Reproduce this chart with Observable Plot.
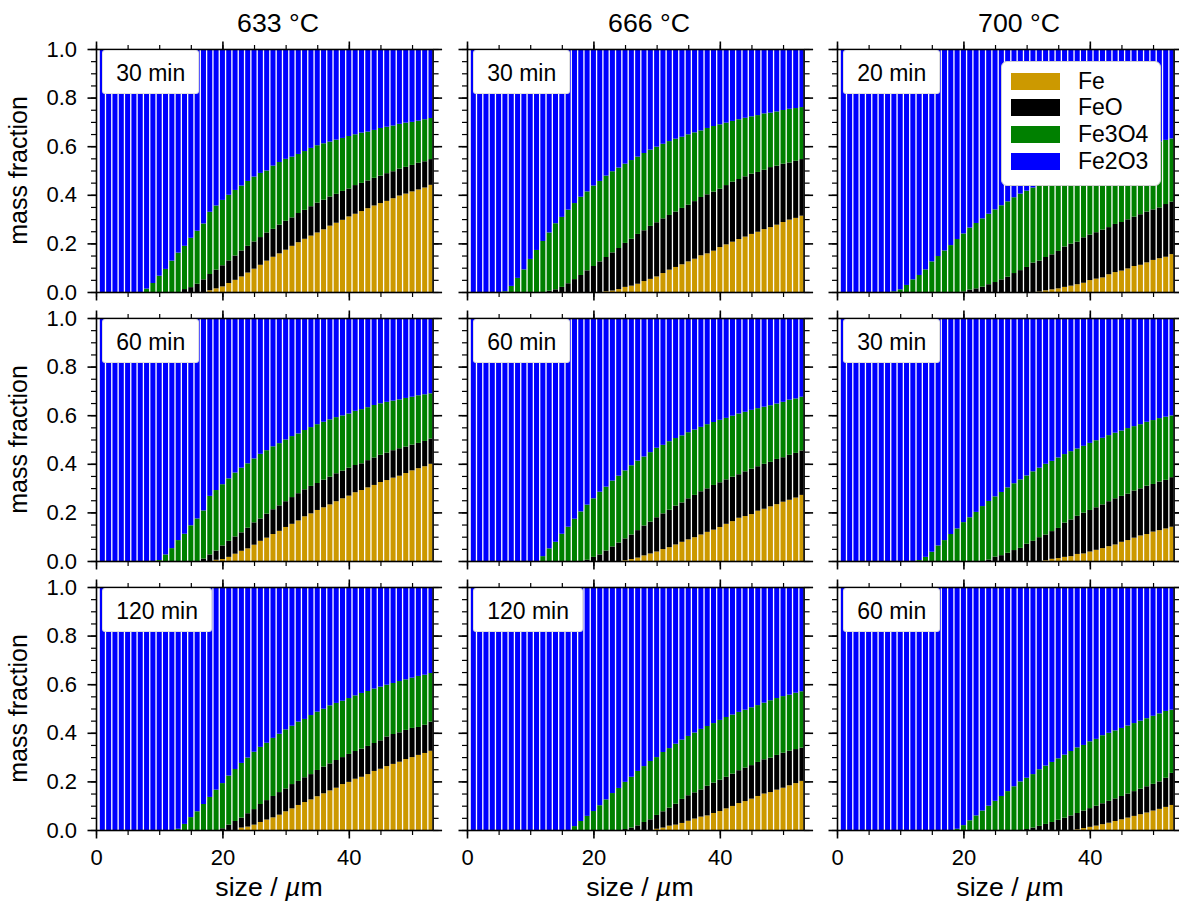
<!DOCTYPE html>
<html><head><meta charset="utf-8">
<script src="https://cdn.jsdelivr.net/npm/d3@7"></script>
<script src="https://cdn.jsdelivr.net/npm/@observablehq/plot@0.6"></script>
<style>
body{margin:0;background:#fff;font-family:"Liberation Sans",Arial,Helvetica,sans-serif;}
#wrap{position:relative;width:1179px;height:909px;overflow:hidden;background:#fff;}
.tbox{position:absolute;background:#fff;border:1px solid rgba(0,0,0,0.12);border-radius:3px;height:44px;line-height:45px;padding:0 13px;font-size:23px;color:#000;white-space:nowrap;box-sizing:border-box;}
.legend{position:absolute;background:#fff;border:1.5px solid #cfcfcf;border-radius:6px;box-sizing:border-box;}
.legend .sw{position:absolute;width:49px;height:17px;}
.legend .lb{position:absolute;font-size:23px;line-height:23px;color:#000;white-space:nowrap;}
</style></head><body><div id="wrap"></div>
<script>
// ---------------- data ----------------
const sizes = [1,2,3,4,5,6,7,8,9,10,11,12,13,14,15,16,17,18,19,20,21,22,23,24,25,26,27,28,29,30,31,32,33,34,35,36,37,38,39,40,41,42,43,44,45,46,47,48,49,50,51,52,53];
const temps = ["633 °C","666 °C","700 °C"];
const species = ["Fe","FeO","Fe3O4","Fe2O3"];
const speciesColors = ["#cc9900","#000000","#008000","#0000ff"];
const xMajorTicks = [0,20,40];
const xMinorTicks = [0,5,10,15,20,25,30,35,40,45,50];
const yMajorTicks = [0,0.2,0.4,0.6,0.8,1.0];
const yMinorTicks = [0,0.05,0.1,0.15,0.2,0.25,0.3,0.35,0.4,0.45,0.5,0.55,0.6,0.65,0.7,0.75,0.8,0.85,0.9,0.95,1.0];

// cumulative tops: Fe, Fe+FeO, Fe+FeO+Fe3O4 (rest is Fe2O3)
// 633 °C, 30 min
const fe_633_30 = [0,0,0,0,0,0,0,0,0,0,0,0,0,0,0,0,0,.007,.015,.023,.037,.05,.064,.08,.096,.112,.129,.145,.159,.174,.19,.205,.219,.232,.245,.258,.273,.285,.297,.311,.322,.333,.345,.356,.366,.375,.386,.397,.405,.414,.422,.43,.441];
const feo_633_30 = [0,0,0,0,0,0,0,0,0,0,0,0,0,.012,.02,.034,.052,.074,.092,.11,.13,.15,.171,.19,.208,.226,.245,.26,.277,.293,.307,.325,.338,.353,.368,.38,.393,.404,.416,.426,.44,.449,.459,.47,.479,.489,.497,.508,.515,.523,.532,.538,.547];
const fe3o4_633_30 = [0,0,0,0,0,0,0,.014,.037,.067,.095,.129,.162,.19,.223,.252,.282,.33,.356,.379,.40,.42,.438,.457,.475,.49,.50,.52,.535,.548,.557,.568,.58,.593,.604,.612,.619,.627,.634,.642,.649,.656,.66,.667,.675,.68,.685,.692,.697,.70,.705,.711,.716];
// 666 °C, 30 min
const fe_666_30 = [0,0,0,0,0,0,0,0,0,0,0,0,0,0,0,0,0,0,0,0,0,.003,.006,.012,.021,.026,.034,.045,.054,.064,.078,.092,.103,.114,.126,.137,.151,.159,.17,.185,.196,.207,.218,.228,.239,.248,.259,.267,.277,.288,.298,.305,.314];
const feo_666_30 = [0,0,0,0,0,0,0,0,0,0,0,0,.005,.011,.021,.036,.053,.07,.089,.107,.126,.144,.163,.181,.202,.219,.239,.254,.272,.287,.303,.317,.331,.346,.359,.374,.391,.402,.413,.425,.44,.454,.465,.476,.487,.494,.503,.514,.52,.528,.533,.54,.547];
const fe3o4_666_30 = [0,0,0,0,0,.003,.025,.058,.093,.136,.173,.21,.245,.283,.309,.339,.366,.392,.414,.438,.457,.479,.497,.512,.528,.543,.557,.572,.586,.598,.61,.621,.631,.639,.649,.657,.665,.675,.683,.69,.697,.704,.711,.717,.723,.728,.735,.738,.743,.749,.754,.757,.761];
// 700 °C, 20 min
const fe_700_20 = [0,0,0,0,0,0,0,0,0,0,0,0,0,0,0,0,0,0,0,0,0,0,0,0,0,0,0,0,0,0,0,.002,.007,.011,.015,.021,.026,.032,.038,.049,.055,.06,.073,.082,.088,.097,.107,.112,.122,.132,.139,.145,.156];
const feo_700_20 = [0,0,0,0,0,0,0,0,0,0,0,0,0,0,0,0,0,0,0,.002,.01,.015,.022,.032,.041,.052,.063,.078,.09,.103,.121,.129,.144,.155,.169,.187,.199,.207,.225,.236,.246,.257,.267,.28,.288,.299,.31,.32,.331,.34,.348,.362,.372];
const fe3o4_700_20 = [0,0,0,0,0,0,0,0,.003,.011,.029,.052,.07,.093,.126,.148,.171,.193,.218,.241,.265,.284,.303,.322,.34,.357,.373,.39,.405,.417,.43,.442,.454,.466,.477,.488,.499,.51,.52,.53,.54,.55,.559,.568,.577,.585,.593,.6,.607,.614,.62,.626,.632];
// 633 °C, 60 min
const fe_633_60 = [0,0,0,0,0,0,0,0,0,0,0,0,0,0,0,0,0,0,.005,.008,.017,.03,.042,.052,.067,.083,.096,.111,.124,.14,.153,.167,.184,.196,.21,.221,.233,.246,.258,.269,.283,.292,.303,.313,.325,.333,.343,.351,.362,.373,.382,.39,.4];
const feo_633_60 = [0,0,0,0,0,0,0,0,0,0,0,0,0,0,0,0,.01,.027,.043,.064,.083,.101,.118,.137,.159,.175,.195,.213,.229,.246,.263,.279,.295,.309,.321,.335,.347,.361,.372,.384,.395,.402,.415,.426,.437,.446,.456,.464,.471,.479,.486,.494,.504];
const fe3o4_633_60 = [0,0,0,0,0,0,0,0,0,.004,.027,.053,.086,.112,.147,.175,.208,.268,.292,.316,.34,.364,.384,.402,.422,.441,.456,.472,.485,.5,.514,.525,.539,.551,.563,.573,.583,.592,.599,.607,.618,.625,.633,.642,.649,.655,.66,.665,.671,.676,.682,.686,.69];
// 666 °C, 60 min
const fe_666_60 = [0,0,0,0,0,0,0,0,0,0,0,0,0,0,0,0,0,0,0,0,0,0,0,0,.003,.008,.014,.023,.031,.039,.049,.057,.068,.079,.089,.098,.109,.12,.129,.14,.153,.164,.178,.185,.193,.207,.215,.225,.234,.244,.252,.261,.272];
const feo_666_60 = [0,0,0,0,0,0,0,0,0,0,0,0,0,0,0,0,0,0,.005,.017,.027,.043,.06,.076,.093,.109,.127,.146,.162,.18,.196,.211,.228,.241,.258,.272,.287,.299,.313,.324,.336,.347,.357,.369,.38,.39,.4,.408,.42,.427,.437,.445,.455];
const fe3o4_666_60 = [0,0,0,0,0,0,0,0,0,0,0,.02,.052,.079,.112,.141,.174,.204,.232,.258,.285,.306,.331,.351,.373,.394,.413,.43,.448,.466,.478,.493,.506,.517,.53,.541,.552,.563,.572,.581,.589,.598,.607,.614,.622,.629,.635,.641,.648,.655,.664,.669,.676];
// 700 °C, 30 min
const fe_700_30 = [0,0,0,0,0,0,0,0,0,0,0,0,0,0,0,0,0,0,0,0,0,0,0,0,0,0,0,0,0,0,0,0,.003,.009,.012,.017,.02,.029,.031,.039,.046,.053,.061,.068,.079,.086,.096,.105,.111,.121,.127,.134,.141];
const feo_700_30 = [0,0,0,0,0,0,0,0,0,0,0,0,0,0,0,0,0,0,0,0,0,0,0,.006,.018,.024,.034,.045,.054,.071,.083,.098,.109,.123,.136,.158,.171,.186,.199,.21,.221,.233,.246,.258,.268,.277,.29,.299,.31,.317,.327,.334,.345];
const fe3o4_700_30 = [0,0,0,0,0,0,0,0,0,0,0,0,.004,.017,.038,.064,.086,.111,.134,.16,.18,.202,.226,.247,.266,.284,.303,.32,.336,.352,.369,.384,.4,.412,.426,.44,.452,.463,.474,.486,.497,.507,.518,.528,.537,.547,.555,.563,.573,.58,.588,.594,.599];
// 633 °C, 120 min
const fe_633_120 = [0,0,0,0,0,0,0,0,0,0,0,0,0,0,0,0,0,0,0,0,0,0,.01,.014,.022,.033,.043,.052,.063,.077,.089,.103,.115,.126,.139,.151,.163,.174,.189,.198,.211,.219,.23,.243,.252,.263,.272,.281,.292,.3,.309,.317,.326];
const feo_633_120 = [0,0,0,0,0,0,0,0,0,0,0,0,0,0,0,0,0,0,0,.007,.022,.037,.051,.069,.086,.107,.123,.14,.156,.171,.189,.202,.217,.23,.247,.261,.274,.288,.3,.313,.325,.335,.346,.358,.369,.385,.395,.402,.412,.42,.424,.433,.446];
const fe3o4_633_120 = [0,0,0,0,0,0,0,0,0,0,0,0,.005,.025,.053,.077,.107,.136,.166,.193,.224,.251,.276,.298,.322,.342,.359,.379,.396,.414,.429,.446,.457,.473,.487,.499,.513,.523,.532,.543,.554,.564,.572,.582,.59,.598,.605,.613,.62,.627,.634,.639,.646];
// 666 °C, 120 min
const fe_666_120 = [0,0,0,0,0,0,0,0,0,0,0,0,0,0,0,0,0,0,0,0,0,0,0,0,0,0,0,0,0,.005,.01,.018,.022,.029,.038,.047,.055,.06,.07,.078,.089,.099,.111,.119,.129,.14,.15,.156,.166,.174,.184,.193,.202];
const feo_666_120 = [0,0,0,0,0,0,0,0,0,0,0,0,0,0,0,0,0,0,0,0,0,0,0,0,.004,.01,.019,.033,.044,.062,.077,.092,.108,.128,.143,.155,.167,.182,.195,.207,.219,.232,.246,.257,.267,.28,.291,.298,.309,.318,.326,.333,.339];
const fe3o4_666_120 = [0,0,0,0,0,0,0,0,0,0,0,0,0,0,0,0,.016,.037,.058,.078,.102,.126,.152,.173,.198,.219,.243,.263,.284,.3,.321,.337,.355,.372,.387,.401,.416,.428,.44,.453,.465,.475,.486,.495,.505,.514,.524,.534,.543,.551,.557,.565,.571];
// 700 °C, 60 min
const fe_700_60 = [0,0,0,0,0,0,0,0,0,0,0,0,0,0,0,0,0,0,0,0,0,0,0,0,0,0,0,0,0,0,0,0,0,0,0,0,0,.003,.008,.013,.018,.024,.03,.037,.044,.051,.058,.065,.072,.08,.087,.095,.103];
const feo_700_60 = [0,0,0,0,0,0,0,0,0,0,0,0,0,0,0,0,0,0,0,0,0,0,0,0,0,0,0,0,0,.004,.01,.017,.025,.033,.042,.051,.06,.07,.08,.09,.1,.11,.12,.13,.14,.15,.16,.17,.18,.19,.2,.215,.235];
const fe3o4_700_60 = [0,0,0,0,0,0,0,0,0,0,0,0,0,0,0,0,0,0,.005,.02,.04,.06,.08,.1,.12,.14,.16,.18,.2,.215,.23,.25,.265,.28,.295,.31,.325,.34,.35,.365,.375,.39,.4,.41,.42,.43,.44,.45,.46,.47,.48,.49,.495];

const panels = [
  {col:0,row:0,label:"30 min", fe:fe_633_30, feo:feo_633_30, fe3o4:fe3o4_633_30},
  {col:1,row:0,label:"30 min", fe:fe_666_30, feo:feo_666_30, fe3o4:fe3o4_666_30},
  {col:2,row:0,label:"20 min", fe:fe_700_20, feo:feo_700_20, fe3o4:fe3o4_700_20},
  {col:0,row:1,label:"60 min", fe:fe_633_60, feo:feo_633_60, fe3o4:fe3o4_633_60},
  {col:1,row:1,label:"60 min", fe:fe_666_60, feo:feo_666_60, fe3o4:fe3o4_666_60},
  {col:2,row:1,label:"30 min", fe:fe_700_30, feo:feo_700_30, fe3o4:fe3o4_700_30},
  {col:0,row:2,label:"120 min", fe:fe_633_120, feo:feo_633_120, fe3o4:fe3o4_633_120},
  {col:1,row:2,label:"120 min", fe:fe_666_120, feo:feo_666_120, fe3o4:fe3o4_666_120},
  {col:2,row:2,label:"60 min", fe:fe_700_60, feo:feo_700_60, fe3o4:fe3o4_700_60}
];

// ---------------- layout ----------------
const FONT = '"Liberation Sans", Arial, Helvetica, sans-serif';
const colLeft = [95.7, 466.7, 836.7], rowTop = [49, 318, 587];
const PW = 336.6, PH = 243;
const ML = 60, MR = 16, MT = 16, MB = 50;
const wrap = document.getElementById("wrap");

panels.forEach(p => {
  const rows = [];
  sizes.forEach((s, i) => {
    const b = [0, p.fe[i], p.feo[i], p.fe3o4[i], 1];
    species.forEach((sp, k) => {
      if (b[k + 1] > b[k]) rows.push({size: s, species: sp, y1: b[k], y2: b[k + 1]});
    });
  });
  const isLeft = p.col === 0, isBottom = p.row === 2;
  const blank = () => "";
  const chart = Plot.plot({
    width: PW + ML + MR, height: PH + MT + MB,
    marginLeft: ML, marginRight: MR, marginTop: MT, marginBottom: MB,
    x: {domain: [0, 53.25]},
    y: {domain: [0, 1]},
    color: {domain: species, range: speciesColors},
    style: {fontFamily: FONT, fontSize: "22px", color: "#000", background: "transparent", overflow: "visible"},
    marks: [
      Plot.rectY(rows, {x1: d => d.size - 0.5, x2: d => d.size + 0.5, y1: "y1", y2: "y2", fill: "species", insetLeft: 0.65, insetRight: 0.65, clip: true}),
      Plot.frame({stroke: "#000", strokeWidth: 1.6}),
      Plot.axisX({anchor: "bottom", ticks: xMinorTicks, tickSize: 5, strokeWidth: 1.2, tickFormat: blank, label: null}),
      Plot.axisX({anchor: "top", ticks: xMinorTicks, tickSize: 5, strokeWidth: 1.2, tickFormat: blank, label: null}),
      Plot.axisX({anchor: "bottom", ticks: xMajorTicks, tickSize: 8.5, tickPadding: 10.5, strokeWidth: 1.6, tickFormat: isBottom ? (d => String(d)) : blank, label: null}),
      Plot.axisX({anchor: "top", ticks: xMajorTicks, tickSize: 8.5, strokeWidth: 1.6, tickFormat: blank, label: null}),
      Plot.axisY({anchor: "left", ticks: yMinorTicks, tickSize: 5, strokeWidth: 1.2, tickFormat: blank, label: null}),
      Plot.axisY({anchor: "right", ticks: yMinorTicks, tickSize: 5, strokeWidth: 1.2, tickFormat: blank, label: null}),
      Plot.axisY({anchor: "left", ticks: yMajorTicks, tickSize: 8.5, tickPadding: 11, strokeWidth: 1.6, tickFormat: isLeft ? d3.format(".1f") : blank, label: null}),
      Plot.axisY({anchor: "right", ticks: yMajorTicks, tickSize: 8.5, strokeWidth: 1.6, tickFormat: blank, label: null})
    ]
  });
  chart.style.position = "absolute";
  chart.style.left = (colLeft[p.col] - ML) + "px";
  chart.style.top = (rowTop[p.row] - MT) + "px";
  chart.style.maxWidth = "none";
  wrap.appendChild(chart);

  const box = document.createElement("div");
  box.className = "tbox";
  box.textContent = p.label;
  box.style.left = (colLeft[p.col] + 6.5) + "px";
  box.style.top = (rowTop[p.row] + 1) + "px";
  wrap.appendChild(box);
});

// overlay texts
const ov = d3.select(wrap).append("svg")
  .attr("width", 1179).attr("height", 909)
  .style("position", "absolute").style("left", "0px").style("top", "0px")
  .style("pointer-events", "none")
  .attr("font-family", FONT).attr("font-size", 26.7).attr("fill", "#000");
temps.forEach((t, c) => {
  ov.append("text").attr("x", colLeft[c] + PW / 2 + 14).attr("y", 32).attr("text-anchor", "middle").text(t);
  const xl = ov.append("text").attr("x", colLeft[c] + PW / 2 + 5).attr("y", 896).attr("text-anchor", "middle");
  xl.append("tspan").text("size / ");
  xl.append("tspan").attr("font-style", "italic").text("µ");
  xl.append("tspan").text("m");
});
[0, 1, 2].forEach(r => {
  ov.append("text").attr("transform", `translate(27,${rowTop[r] + PH / 2}) rotate(-90)`)
    .attr("text-anchor", "middle").attr("font-size", 25).text("mass fraction");
});

// legend (top-right panel)
const lg = document.createElement("div");
lg.className = "legend";
lg.style.left = "1001px"; lg.style.top = "61px"; lg.style.width = "160px"; lg.style.height = "125px";
species.forEach((sp, k) => {
  const sw = document.createElement("div");
  sw.className = "sw";
  sw.style.left = "9px"; sw.style.top = (10.5 + k * 26.8) + "px";
  sw.style.background = speciesColors[k];
  lg.appendChild(sw);
  const lb = document.createElement("div");
  lb.className = "lb";
  lb.style.left = "76px"; lb.style.top = (7.5 + k * 26.8) + "px";
  lb.textContent = sp;
  lg.appendChild(lb);
});
wrap.appendChild(lg);
</script>
</body></html>
